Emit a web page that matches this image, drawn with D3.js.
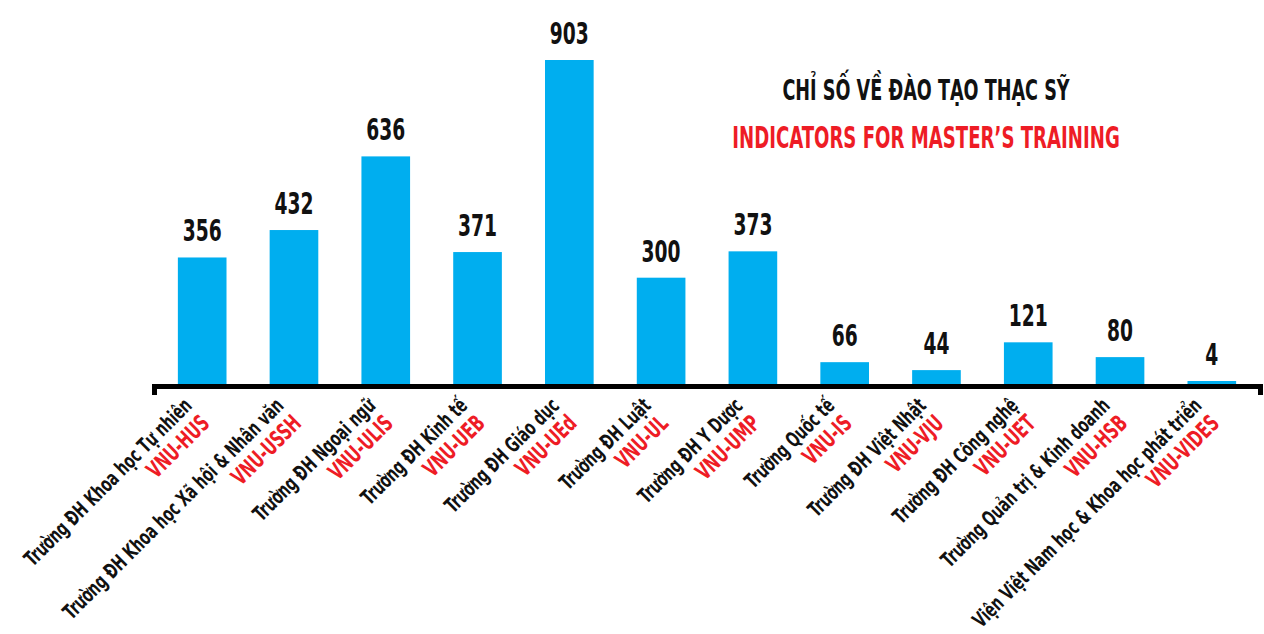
<!DOCTYPE html>
<html>
<head>
<meta charset="utf-8">
<script src="https://cdn.jsdelivr.net/npm/d3@7"></script>
<style>
  body { margin: 0; background: #fff; }
  svg text { font-family: 'Liberation Sans Narrow', 'DejaVu Sans Condensed', 'Roboto', sans-serif; font-weight: bold; }
</style>
</head>
<body>
<div id="chart"></div>
<script>
// tên trường (dòng đen) và mã viết tắt (dòng đỏ)
const schools = [
  "Trường ĐH Khoa học Tự nhiên",
  "Trường ĐH Khoa học Xã hội & Nhân văn",
  "Trường ĐH Ngoại ngữ",
  "Trường ĐH Kinh tế",
  "Trường ĐH Giáo dục",
  "Trường ĐH Luật",
  "Trường ĐH Y Dược",
  "Trường Quốc tế",
  "Trường ĐH Việt Nhật",
  "Trường ĐH Công nghệ",
  "Trường Quản trị & Kinh doanh",
  "Viện Việt Nam học & Khoa học phát triển"
];
const codes = ["VNU-HUS", "VNU-USSH", "VNU-ULIS", "VNU-UEB", "VNU-UEd", "VNU-UL",
  "VNU-UMP", "VNU-IS", "VNU-VJU", "VNU-UET", "VNU-HSB", "VNU-VIDES"];
const values = [356, 432, 636, 371, 903, 300, 373, 66, 44, 121, 80, 4];

const titleVi = "CHỈ SỐ VỀ ĐÀO TẠO THẠC SỸ";
const titleEn = "INDICATORS FOR MASTER’S TRAINING";

const width = 1264, height = 634;
const baseY = 386;

const svg = d3.select("#chart").append("svg")
  .attr("width", width)
  .attr("height", height);

const x = d3.scaleBand()
  .domain(codes)
  .range([154, 1260])
  .paddingInner(0.47)
  .paddingOuter(0.26);

const y = d3.scaleLinear()
  .domain([0, d3.max(values)])
  .range([baseY, 60]);

// chiều cao tối thiểu để cột rất nhỏ vẫn nhìn thấy trên trục
const barH = d => Math.max(5, y(0) - y(d));

// cột
svg.append("g")
  .selectAll("rect")
  .data(values)
  .join("rect")
  .attr("x", (d, i) => x(codes[i]))
  .attr("y", d => y(0) - barH(d))
  .attr("width", x.bandwidth())
  .attr("height", d => barH(d))
  .attr("fill", "#00aeef");

// số liệu trên cột (chữ hẹp)
svg.append("g")
  .selectAll("text")
  .data(values)
  .join("text")
  .attr("transform", (d, i) => `translate(${x(codes[i]) + x.bandwidth() / 2},${y(0) - barH(d) - 16}) scale(0.67,1)`)
  .attr("text-anchor", "middle")
  .attr("font-size", 31)
  .attr("fill", "#111")
  .text(d => d);

// trục hoành
const axis = svg.append("g")
  .attr("transform", `translate(0,${baseY})`)
  .call(d3.axisBottom(x).tickValues([]).tickSizeOuter(9));
axis.select(".domain")
  .attr("stroke", "#000")
  .attr("stroke-width", 5);

// nhãn xoay 45 độ
const lab = svg.append("g")
  .selectAll("g")
  .data(codes)
  .join("g")
  .attr("transform", d => `translate(${x(d) + x.bandwidth() / 2 - 9},${baseY + 21}) rotate(-45) scale(0.72,1)`);

lab.append("text")
  .attr("text-anchor", "end")
  .attr("font-size", 21)
  .attr("fill", "#111")
  .text((d, i) => schools[i]);

lab.append("text")
  .attr("text-anchor", "end")
  .attr("font-size", 23)
  .attr("dy", 25)
  .attr("fill", "#ee1c25")
  .text(d => d);

// tiêu đề
svg.append("text")
  .attr("transform", "translate(926,100) scale(0.7,1)")
  .attr("text-anchor", "middle")
  .attr("font-size", 28)
  .attr("fill", "#111")
  .text(titleVi);

svg.append("text")
  .attr("transform", "translate(926,148) scale(0.65,1)")
  .attr("text-anchor", "middle")
  .attr("font-size", 31)
  .attr("fill", "#ee1c25")
  .text(titleEn);
</script>
</body>
</html>
